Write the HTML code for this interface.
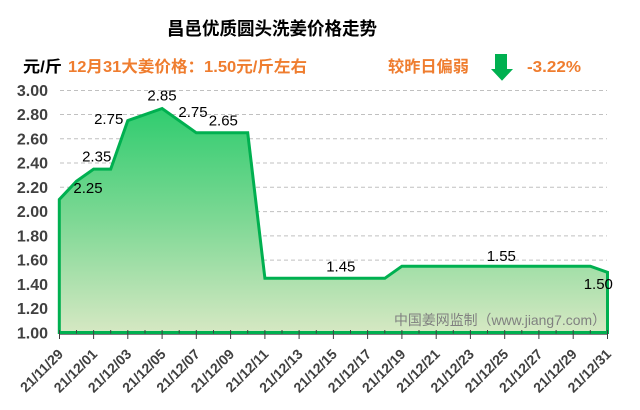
<!DOCTYPE html>
<html><head><meta charset="utf-8"><style>
html,body{margin:0;padding:0;background:#fff;}
svg{display:block;}
</style></head><body>
<svg width="640" height="410" viewBox="0 0 640 410" xmlns="http://www.w3.org/2000/svg">
<defs>
<linearGradient id="g" gradientUnits="userSpaceOnUse" x1="0" y1="106" x2="0" y2="333">
<stop offset="0" stop-color="#2ecc6e"/>
<stop offset="0.5" stop-color="#7dd894"/>
<stop offset="1" stop-color="#d6e8c3"/>
</linearGradient>
</defs>
<rect width="640" height="410" fill="#fff"/>
<!-- title -->
<text x="272" y="35" text-anchor="middle" font-family="'Liberation Sans','Noto Sans CJK SC',sans-serif" font-size="18" font-weight="bold" fill="#000" textLength="210" lengthAdjust="spacingAndGlyphs">昌邑优质圆头洗姜价格走势</text>
<!-- subtitle -->
<text x="23" y="72" font-family="'Liberation Sans','Noto Sans CJK SC',sans-serif" font-size="16" font-weight="bold" fill="#000" textLength="39" lengthAdjust="spacingAndGlyphs">元/斤</text>
<text x="68" y="72" font-family="'Liberation Sans','Noto Sans CJK SC',sans-serif" font-size="16" font-weight="bold" fill="#ef7d2f" textLength="239" lengthAdjust="spacingAndGlyphs">12月31大姜价格：1.50元/斤左右</text>
<text x="388" y="72" font-family="'Liberation Sans','Noto Sans CJK SC',sans-serif" font-size="16" font-weight="bold" fill="#ef7d2f" textLength="81" lengthAdjust="spacingAndGlyphs">较昨日偏弱</text>
<polygon points="495,54 507,54 507,69 513,69 502,80.7 491,69 495,69" fill="#00b050"/>
<text x="527" y="72" font-family="'Liberation Sans',sans-serif" font-size="16" font-weight="bold" fill="#ef7d2f" textLength="54" lengthAdjust="spacingAndGlyphs">-3.22%</text>
<!-- gridlines -->
<g stroke="#c0c0c0" stroke-width="1" stroke-dasharray="4,3">
<line x1="60" y1="90.5" x2="607" y2="90.5"/>
<line x1="60" y1="114.5" x2="607" y2="114.5"/>
<line x1="60" y1="138.8" x2="607" y2="138.8"/>
<line x1="60" y1="163" x2="607" y2="163"/>
<line x1="60" y1="187.3" x2="607" y2="187.3"/>
<line x1="60" y1="211.6" x2="607" y2="211.6"/>
<line x1="60" y1="235.9" x2="607" y2="235.9"/>
<line x1="60" y1="260.1" x2="607" y2="260.1"/>
<line x1="60" y1="284.4" x2="607" y2="284.4"/>
<line x1="60" y1="308.6" x2="607" y2="308.6"/>
</g>
<!-- y labels -->
<g font-family="'Liberation Sans',sans-serif" font-size="16" font-weight="bold" fill="#404040" text-anchor="end">
<text x="48" y="96">3.00</text>
<text x="48" y="120">2.80</text>
<text x="48" y="144.3">2.60</text>
<text x="48" y="168.5">2.40</text>
<text x="48" y="192.8">2.20</text>
<text x="48" y="217.1">2.00</text>
<text x="48" y="241.4">1.80</text>
<text x="48" y="265.6">1.60</text>
<text x="48" y="289.9">1.40</text>
<text x="48" y="314.1">1.20</text>
<text x="48" y="338.4">1.00</text>
</g>
<!-- area -->
<polygon fill="url(#g)" points="59.3,332.5 59.3,199.5 76.4,181.3 93.6,169.1 110.7,169.1 127.8,120.6 162.1,108.5 196.3,132.8 247.7,132.8 264.9,278.3 384.8,278.3 401.9,266.2 590.3,266.2 607.5,272.3 607.5,332.5"/>
<!-- axis line -->
<line x1="59" y1="334.4" x2="608" y2="334.4" stroke="#7f7f7f" stroke-width="1.3"/>
<polygon fill="none" stroke="#00b050" stroke-width="3" stroke-linejoin="miter" points="59.3,332.5 59.3,199.5 76.4,181.3 93.6,169.1 110.7,169.1 127.8,120.6 162.1,108.5 196.3,132.8 247.7,132.8 264.9,278.3 384.8,278.3 401.9,266.2 590.3,266.2 607.5,272.3 607.5,332.5"/>
<g stroke="#404040" stroke-width="1">
<line x1="59.5" y1="330" x2="59.5" y2="339"/><line x1="76.5" y1="330" x2="76.5" y2="333.5"/>
<line x1="93.6" y1="330" x2="93.6" y2="339"/><line x1="110.7" y1="330" x2="110.7" y2="333.5"/>
<line x1="127.8" y1="330" x2="127.8" y2="339"/><line x1="145" y1="330" x2="145" y2="333.5"/>
<line x1="162.1" y1="330" x2="162.1" y2="339"/><line x1="179.2" y1="330" x2="179.2" y2="333.5"/>
<line x1="196.3" y1="330" x2="196.3" y2="339"/><line x1="213.5" y1="330" x2="213.5" y2="333.5"/>
<line x1="230.6" y1="330" x2="230.6" y2="339"/><line x1="247.7" y1="330" x2="247.7" y2="333.5"/>
<line x1="264.9" y1="330" x2="264.9" y2="339"/><line x1="282" y1="330" x2="282" y2="333.5"/>
<line x1="299.1" y1="330" x2="299.1" y2="339"/><line x1="316.3" y1="330" x2="316.3" y2="333.5"/>
<line x1="333.4" y1="330" x2="333.4" y2="339"/><line x1="350.5" y1="330" x2="350.5" y2="333.5"/>
<line x1="367.6" y1="330" x2="367.6" y2="339"/><line x1="384.8" y1="330" x2="384.8" y2="333.5"/>
<line x1="401.9" y1="330" x2="401.9" y2="339"/><line x1="419" y1="330" x2="419" y2="333.5"/>
<line x1="436.2" y1="330" x2="436.2" y2="339"/><line x1="453.3" y1="330" x2="453.3" y2="333.5"/>
<line x1="470.4" y1="330" x2="470.4" y2="339"/><line x1="487.5" y1="330" x2="487.5" y2="333.5"/>
<line x1="504.7" y1="330" x2="504.7" y2="339"/><line x1="521.8" y1="330" x2="521.8" y2="333.5"/>
<line x1="538.9" y1="330" x2="538.9" y2="339"/><line x1="556.1" y1="330" x2="556.1" y2="333.5"/>
<line x1="573.2" y1="330" x2="573.2" y2="339"/><line x1="590.3" y1="330" x2="590.3" y2="333.5"/>
<line x1="607.5" y1="330" x2="607.5" y2="339"/>
</g>
<!-- data labels -->
<g font-family="'Liberation Sans',sans-serif" font-size="15" fill="#000" text-anchor="middle">
<text x="88" y="193">2.25</text>
<text x="96.7" y="161.5">2.35</text>
<text x="108.7" y="124">2.75</text>
<text x="162" y="100.5">2.85</text>
<text x="193" y="117">2.75</text>
<text x="223.3" y="125.5">2.65</text>
<text x="340.8" y="271.5">1.45</text>
<text x="501.3" y="261">1.55</text>
<text x="598.3" y="289">1.50</text>
</g>
<!-- watermark -->
<text x="394" y="325" font-family="'Liberation Sans','Noto Sans CJK SC',sans-serif" font-size="14" fill="#808080" textLength="212" lengthAdjust="spacingAndGlyphs">中国姜网监制（www.jiang7.com）</text>
<!-- x labels -->
<g font-family="'Liberation Sans',sans-serif" font-size="14" font-weight="bold" fill="#404040" text-anchor="end">
<text transform="translate(64,355) rotate(-45)">21/11/29</text>
<text transform="translate(98.1,355) rotate(-45)">21/12/01</text>
<text transform="translate(132.3,355) rotate(-45)">21/12/03</text>
<text transform="translate(166.6,355) rotate(-45)">21/12/05</text>
<text transform="translate(200.8,355) rotate(-45)">21/12/07</text>
<text transform="translate(235.1,355) rotate(-45)">21/12/09</text>
<text transform="translate(269.4,355) rotate(-45)">21/12/11</text>
<text transform="translate(303.6,355) rotate(-45)">21/12/13</text>
<text transform="translate(337.9,355) rotate(-45)">21/12/15</text>
<text transform="translate(372.1,355) rotate(-45)">21/12/17</text>
<text transform="translate(406.4,355) rotate(-45)">21/12/19</text>
<text transform="translate(440.7,355) rotate(-45)">21/12/21</text>
<text transform="translate(474.9,355) rotate(-45)">21/12/23</text>
<text transform="translate(509.2,355) rotate(-45)">21/12/25</text>
<text transform="translate(543.4,355) rotate(-45)">21/12/27</text>
<text transform="translate(577.7,355) rotate(-45)">21/12/29</text>
<text transform="translate(612,355) rotate(-45)">21/12/31</text>
</g>
</svg>
</body></html>
